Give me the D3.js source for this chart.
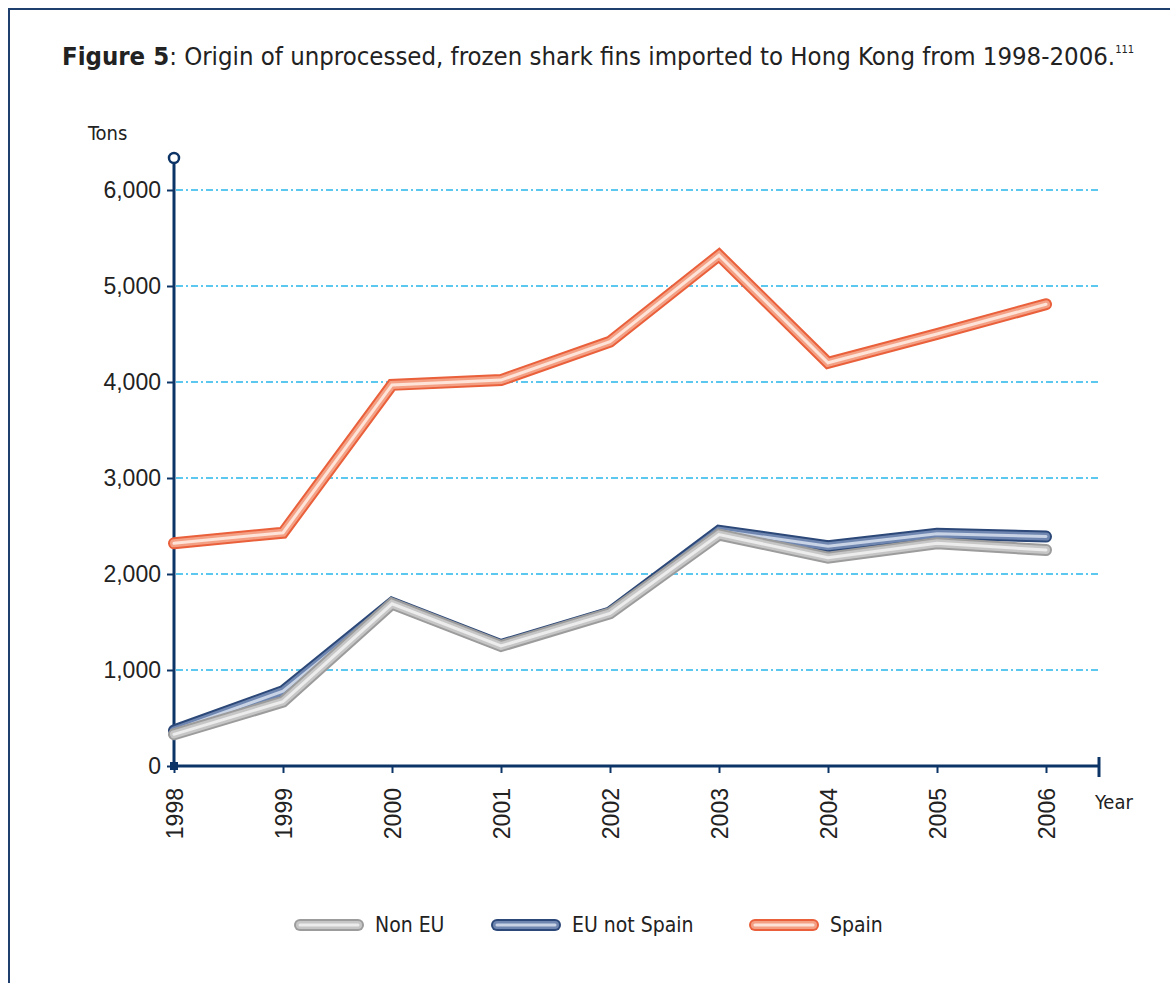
<!DOCTYPE html>
<html>
<head>
<meta charset="utf-8">
<script src="https://cdn.jsdelivr.net/npm/d3@7"></script>
<style>
  body { margin: 0; background: #fff; }
  svg { display: block; font-family: "DejaVu Sans Condensed", "Liberation Sans Narrow", "Roboto", sans-serif; }
</style>
</head>
<body>
<div id="vis"></div>
<script>
// Data (tons)
const years = [1998, 1999, 2000, 2001, 2002, 2003, 2004, 2005, 2006];
const spain = [2320, 2430, 3970, 4020, 4420, 5320, 4200, 4500, 4810];
const euNotSpain = [370, 780, 1700, 1260, 1600, 2450, 2290, 2420, 2390];
const nonEU = [330, 670, 1690, 1250, 1590, 2410, 2170, 2320, 2250];
const yTicks = [0, 1000, 2000, 3000, 4000, 5000, 6000];

const W = 1170, H = 983;
const axisColor = "#0d3466";

const svg = d3.select("#vis").append("svg")
  .attr("width", W).attr("height", H);

// Frame
svg.append("path")
  .attr("d", "M9,983 V9 H1170")
  .attr("fill", "none").attr("stroke", "#1f3f6e").attr("stroke-width", 2);

// Title
const title = svg.append("text").attr("x", 62).attr("y", 65)
  .attr("font-size", 25.5).attr("fill", "#222");
title.append("tspan").attr("font-weight", "bold").text("Figure 5");
title.append("tspan").text(": Origin of unprocessed, frozen shark fins imported to Hong Kong from 1998-2006.");
title.append("tspan").attr("font-size", 11).attr("dy", -12).text("111");

// Scales
const x = d3.scalePoint().domain(years).range([174, 1046]);
const y = d3.scaleLinear().domain([0, 6000]).range([766, 190]);

// Grid lines
svg.append("g").selectAll("line")
  .data(yTicks.filter(d => d > 0))
  .join("line")
    .attr("x1", 176).attr("x2", 1099)
    .attr("y1", d => y(d)).attr("y2", d => y(d))
    .attr("stroke", "#27b5ea").attr("stroke-width", 1.4)
    .attr("stroke-dasharray", "7,3,2,3");

// Y axis
const yAxis = svg.append("g")
  .attr("transform", "translate(174,0)")
  .call(d3.axisLeft(y).tickValues(yTicks).tickSize(7).tickPadding(6)
    .tickFormat(d3.format(",")));
yAxis.select(".domain").remove();
yAxis.selectAll(".tick line").attr("stroke", axisColor).attr("stroke-width", 2);
yAxis.selectAll(".tick text").attr("font-size", 23).attr("fill", "#222");

svg.append("line")
  .attr("x1", 174).attr("x2", 174).attr("y1", 164).attr("y2", 768)
  .attr("stroke", axisColor).attr("stroke-width", 3);
svg.append("circle")
  .attr("cx", 174).attr("cy", 158).attr("r", 5)
  .attr("fill", "#fff").attr("stroke", axisColor).attr("stroke-width", 2.5);

// X axis
const xAxis = svg.append("g")
  .attr("transform", "translate(0,766)")
  .call(d3.axisBottom(x).tickSize(7).tickPadding(10).tickFormat(d3.format("d")));
xAxis.select(".domain").remove();
xAxis.selectAll(".tick line").attr("stroke", axisColor).attr("stroke-width", 2);
xAxis.selectAll(".tick text")
  .attr("font-size", 23).attr("fill", "#222")
  .attr("transform", "rotate(-90)")
  .attr("text-anchor", "end")
  .attr("x", -22).attr("y", 0).attr("dy", "0.35em");

svg.append("line")
  .attr("x1", 172).attr("x2", 1099).attr("y1", 766).attr("y2", 766)
  .attr("stroke", axisColor).attr("stroke-width", 3);
svg.append("line")
  .attr("x1", 1099).attr("x2", 1099).attr("y1", 757).attr("y2", 777)
  .attr("stroke", axisColor).attr("stroke-width", 3);
svg.append("rect")
  .attr("x", 170).attr("y", 762).attr("width", 8).attr("height", 8)
  .attr("fill", axisColor);

// Axis titles
svg.append("text").attr("x", 88).attr("y", 140)
  .attr("font-size", 20).attr("fill", "#222").text("Tons");
svg.append("text").attr("x", 1095).attr("y", 809)
  .attr("font-size", 20).attr("fill", "#222").text("Year");

// Tube-like lines
const series = [
  { name: "EU not Spain", values: euNotSpain, colors: ["#2c4878", "#6f87b0", "#c9d3e6"] },
  { name: "Non EU", values: nonEU, colors: ["#9c9c9c", "#c6c6c6", "#ececec"] },
  { name: "Spain", values: spain, colors: ["#e9603b", "#f4a085", "#fde3d8"] }
];

const line = d3.line()
  .x((d, i) => x(years[i]))
  .y(d => y(d));

const widths = [12, 8, 3];

series.forEach(s => {
  const g = svg.append("g");
  s.colors.forEach((c, k) => {
    g.append("path")
      .datum(s.values)
      .attr("d", line)
      .attr("fill", "none")
      .attr("stroke", c)
      .attr("stroke-width", widths[k])
      .attr("stroke-linejoin", "miter")
      .attr("stroke-linecap", "round");
  });
});

// Legend
const legendItems = [
  { name: "Non EU", colors: series[1].colors, x: 300 },
  { name: "EU not Spain", colors: series[0].colors, x: 497 },
  { name: "Spain", colors: series[2].colors, x: 755 }
];
const legend = svg.append("g");
legendItems.forEach(item => {
  item.colors.forEach((c, k) => {
    legend.append("line")
      .attr("x1", item.x).attr("x2", item.x + 58)
      .attr("y1", 925).attr("y2", 925)
      .attr("stroke", c).attr("stroke-width", widths[k])
      .attr("stroke-linecap", "round");
  });
  legend.append("text")
    .attr("x", item.x + 75).attr("y", 932)
    .attr("font-size", 21).attr("fill", "#222")
    .text(item.name);
});
</script>
</body>
</html>
